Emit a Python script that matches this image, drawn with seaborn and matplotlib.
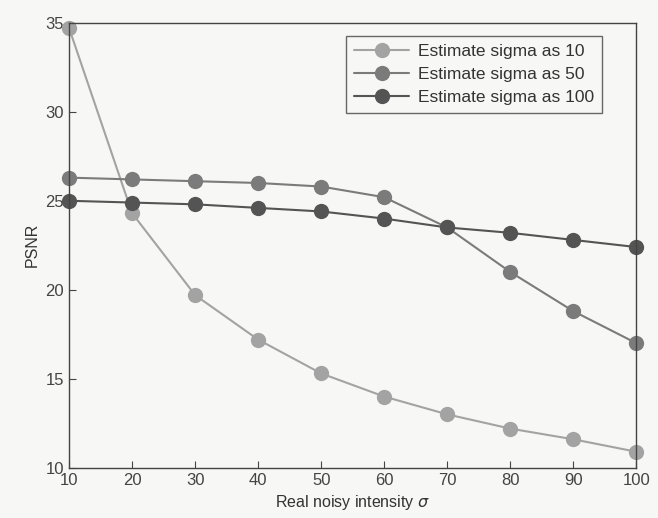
import matplotlib
matplotlib.use("Agg")
import matplotlib.pyplot as plt
import seaborn as sns
import pandas as pd

noise = [10, 20, 30, 40, 50, 60, 70, 80, 90, 100]
est_10 = [34.7, 24.3, 19.7, 17.2, 15.3, 14.0, 13.0, 12.2, 11.6, 10.9]
est_50 = [26.3, 26.2, 26.1, 26.0, 25.8, 25.2, 23.5, 21.0, 18.8, 17.0]
est_100 = [25.0, 24.9, 24.8, 24.6, 24.4, 24.0, 23.5, 23.2, 22.8, 22.4]
labels = ["Estimate sigma as 10", "Estimate sigma as 50", "Estimate sigma as 100"]
colors = ["#a3a3a3", "#7b7b7b", "#545454"]


def main():
    sns.set_style("white")
    plt.rcParams["font.family"] = ["Liberation Sans", "DejaVu Sans"]
    plt.rcParams["mathtext.fontset"] = "dejavusans"

    df = pd.DataFrame({
        "sigma": noise * 3,
        "psnr": est_10 + est_50 + est_100,
        "series": [labels[0]] * 10 + [labels[1]] * 10 + [labels[2]] * 10,
    })

    fig = plt.figure(figsize=(6.58, 5.18), dpi=100, facecolor="#f7f7f5")
    ax = fig.add_axes([0.105, 0.097, 0.862, 0.859])
    ax.set_facecolor("#f7f7f5")

    sns.lineplot(ax=ax, data=df, x="sigma", y="psnr", hue="series",
                 palette=colors, marker="o", markersize=11, linewidth=1.5,
                 markeredgewidth=0, dashes=False)

    ax.set_xlim(10, 100)
    ax.set_ylim(10, 35)
    ax.set_xticks(noise)
    ax.set_yticks([10, 15, 20, 25, 30, 35])
    ax.tick_params(direction="in", length=5, colors="#444444", labelsize=12,
                   top=False, right=False, left=True, bottom=True)
    for s in ax.spines.values():
        s.set_color("#444444")
        s.set_linewidth(1.0)
    for c in ax.lines:
        c.set_clip_on(False)

    ax.set_xlabel(r"Real noisy intensity $\sigma$", fontsize=11.5, color="#333333")
    ax.set_ylabel("PSNR", fontsize=11.5, color="#333333")

    leg = ax.legend(loc="upper right", fontsize=12.5, frameon=True, fancybox=False,
                    borderpad=0.45, handlelength=3.2, labelspacing=0.45,
                    handletextpad=0.5, bbox_to_anchor=(0.955, 0.99))
    leg.get_frame().set_edgecolor("#444444")
    leg.get_frame().set_facecolor("#f7f7f5")
    for t in leg.get_texts():
        t.set_color("#333333")

    fig.savefig("out.png", dpi=100, facecolor=fig.get_facecolor())


if __name__ == "__main__":
    main()
